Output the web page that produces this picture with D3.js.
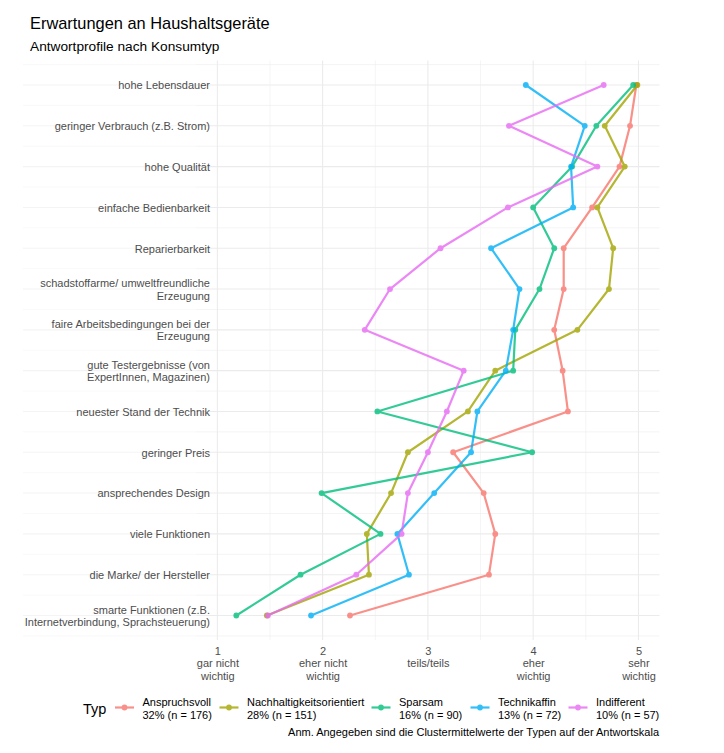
<!DOCTYPE html>
<html>
<head>
<meta charset="utf-8">
<script src="https://cdn.jsdelivr.net/npm/d3@7"></script>
<style>
  html, body { margin: 0; padding: 0; background: #fff; }
  svg { display: block; font-family: "Liberation Sans", Arial, sans-serif; }
</style>
</head>
<body>
<svg id="chart" width="724" height="753"></svg>
<script>
// ---- DATA ----
const categories = [
  "hohe Lebensdauer",
  "geringer Verbrauch (z.B. Strom)",
  "hohe Qualität",
  "einfache Bedienbarkeit",
  "Reparierbarkeit",
  "schadstoffarme/ umweltfreundliche\nErzeugung",
  "faire Arbeitsbedingungen bei der\nErzeugung",
  "gute Testergebnisse (von\nExpertInnen, Magazinen)",
  "neuester Stand der Technik",
  "geringer Preis",
  "ansprechendes Design",
  "viele Funktionen",
  "die Marke/ der Hersteller",
  "smarte Funktionen (z.B.\nInternetverbindung, Sprachsteuerung)"
];

const seriesNames = ["Anspruchsvoll", "Nachhaltigkeitsorientiert", "Sparsam", "Technikaffin", "Indifferent"];
const seriesShares = ["32% (n = 176)", "28% (n = 151)", "16% (n = 90)", "13% (n = 72)", "10% (n = 57)"];
const seriesColors = ["#F8766D", "#A3A500", "#00BF7D", "#00B0F6", "#E76BF3"];

const anspruchsvoll = [4.98, 4.92, 4.82, 4.56, 4.29, 4.29, 4.20, 4.28, 4.33, 3.24, 3.53, 3.64, 3.58, 2.26];
const nachhaltig    = [4.99, 4.68, 4.87, 4.61, 4.76, 4.72, 4.42, 3.64, 3.38, 2.81, 2.65, 2.42, 2.44, 1.47];
const sparsam       = [4.95, 4.60, 4.37, 4.00, 4.20, 4.06, 3.83, 3.81, 2.52, 3.99, 1.99, 2.55, 1.79, 1.18];
const technikaffin  = [3.93, 4.49, 4.36, 4.38, 3.60, 3.87, 3.81, 3.74, 3.47, 3.41, 3.06, 2.71, 2.82, 1.89];
const indifferent   = [4.67, 3.77, 4.61, 3.76, 3.12, 2.64, 2.40, 3.34, 3.18, 3.00, 2.81, 2.75, 2.32, 1.48];

const seriesValues = [anspruchsvoll, nachhaltig, sparsam, technikaffin, indifferent];

const xTicks = [1, 2, 3, 4, 5];
const xTickLabels = ["1\ngar nicht\nwichtig", "2\neher nicht\nwichtig", "3\nteils/teils", "4\neher\nwichtig", "5\nsehr\nwichtig"];

const titleText = "Erwartungen an Haushaltsgeräte";
const subtitleText = "Antwortprofile nach Konsumtyp";
const legendTitle = "Typ";
const captionText = "Anm. Angegeben sind die Clustermittelwerte der Typen auf der Antwortskala";

// ---- LAYOUT ----
const svg = d3.select("#chart");
const panel = { left: 196.3, right: 659.5, top: 60.5, bottom: 640 };
const labelAreaLeft = 23;
const labelRight = 210;

const x = d3.scaleLinear().domain([0.8, 5.2]).range([panel.left, panel.right]);
const y = d3.scalePoint().domain(categories).range([panel.top, panel.bottom]).padding(0.6);
const step = y.step();

const textColor = "#4D4D4D";
const gridColor = "#EBEBEB";

// Title / subtitle
svg.append("text").attr("x", 30).attr("y", 29).attr("font-size", 16.4).attr("fill", "#000").text(titleText);
svg.append("text").attr("x", 30).attr("y", 50.8).attr("font-size", 13.7).attr("fill", "#000").text(subtitleText);

// Grid
const grid = svg.append("g");
const xMinor = [1.5, 2.5, 3.5, 4.5];
grid.selectAll(".vminor").data(xMinor).join("line")
  .attr("x1", d => x(d)).attr("x2", d => x(d))
  .attr("y1", panel.top).attr("y2", panel.bottom)
  .attr("stroke", gridColor).attr("stroke-width", 0.55);
const yMinor = [];
categories.forEach((c) => { yMinor.push(y(c) - step / 2); });
yMinor.push(y(categories[categories.length - 1]) + step / 2);
grid.selectAll(".hminor").data(yMinor).join("line")
  .attr("x1", labelAreaLeft).attr("x2", panel.left)
  .attr("y1", d => d).attr("y2", d => d)
  .attr("stroke", "#F4F4F4").attr("stroke-width", 0.55);
grid.selectAll(".hminorp").data(yMinor).join("line")
  .attr("x1", panel.left).attr("x2", panel.right)
  .attr("y1", d => d).attr("y2", d => d)
  .attr("stroke", gridColor).attr("stroke-width", 0.55);
grid.selectAll(".hmajorl").data(categories).join("line")
  .attr("x1", labelAreaLeft).attr("x2", panel.left)
  .attr("y1", d => y(d)).attr("y2", d => y(d))
  .attr("stroke", "#F4F4F4").attr("stroke-width", 1.07);
grid.selectAll(".hmajor").data(categories).join("line")
  .attr("x1", panel.left).attr("x2", panel.right)
  .attr("y1", d => y(d)).attr("y2", d => y(d))
  .attr("stroke", gridColor).attr("stroke-width", 1.07);
grid.selectAll(".vmajor").data(xTicks).join("line")
  .attr("x1", d => x(d)).attr("x2", d => x(d))
  .attr("y1", panel.top).attr("y2", panel.bottom)
  .attr("stroke", gridColor).attr("stroke-width", 1.07);

// Y axis
const yAxis = svg.append("g").attr("transform", `translate(${labelRight},0)`)
  .call(d3.axisLeft(y).tickSize(0).tickPadding(0));
yAxis.select(".domain").remove();
yAxis.selectAll(".tick text").each(function(d) {
  const t = d3.select(this);
  const lines = d.split("\n");
  t.text(null).attr("fill", textColor).attr("font-size", 11).attr("font-family", "Liberation Sans, Arial, sans-serif")
    .attr("dy", null).attr("y", 0).attr("text-anchor", "end");
  const lh = 12.2;
  const start = -(lines.length - 1) * lh / 2 + 3.9;
  lines.forEach((ln, i) => {
    t.append("tspan").attr("x", 0).attr("y", start + i * lh).text(ln);
  });
});

// X axis
const xAxis = svg.append("g").attr("transform", `translate(0,${panel.bottom})`)
  .call(d3.axisBottom(x).tickValues(xTicks).tickSize(0).tickFormat((d, i) => xTickLabels[i]));
xAxis.select(".domain").remove();
xAxis.selectAll(".tick text").each(function(d, i) {
  const t = d3.select(this);
  const lines = xTickLabels[i].split("\n");
  t.text(null).attr("fill", textColor).attr("font-size", 11).attr("font-family", "Liberation Sans, Arial, sans-serif")
    .attr("dy", null).attr("y", 0);
  lines.forEach((ln, j) => {
    t.append("tspan").attr("x", 0).attr("y", 15 + j * 12.3).text(ln);
  });
});

// Series
const line = d3.line().x(d => x(d.v)).y(d => y(d.c));
const marks = svg.append("g");
seriesNames.forEach((name, si) => {
  const pts = categories.map((c, i) => ({ c, v: seriesValues[si][i] }));
  const g = marks.append("g").attr("opacity", 0.8);
  g.append("path").datum(pts).attr("d", line)
    .attr("fill", "none").attr("stroke", seriesColors[si]).attr("stroke-width", 2.2)
    .attr("stroke-linejoin", "round");
  g.selectAll("circle").data(pts).join("circle")
    .attr("cx", d => x(d.v)).attr("cy", d => y(d.c)).attr("r", 2.9)
    .attr("fill", seriesColors[si]);
});

// Legend
const legend = svg.append("g");
legend.append("text").attr("x", 83).attr("y", 714).attr("font-size", 14.5).attr("fill", "#000").text(legendTitle);
const keyCenters = [124.5, 229, 381, 480, 578];
seriesNames.forEach((name, si) => {
  const cx = keyCenters[si];
  const g = legend.append("g").attr("opacity", 0.8);
  g.append("line").attr("x1", cx - 9.5).attr("x2", cx + 9.5).attr("y1", 707.5).attr("y2", 707.5)
    .attr("stroke", seriesColors[si]).attr("stroke-width", 2.2);
  g.append("circle").attr("cx", cx).attr("cy", 707.5).attr("r", 2.9).attr("fill", seriesColors[si]);
  const t = legend.append("text").attr("font-size", 11).attr("fill", "#000");
  t.append("tspan").attr("x", cx + 18).attr("y", 706.3).text(name);
  t.append("tspan").attr("x", cx + 18).attr("y", 718.5).text(seriesShares[si]);
});

// Caption
svg.append("text").attr("x", 659).attr("y", 735.7).attr("text-anchor", "end")
  .attr("font-size", 11).attr("fill", "#000").text(captionText);
</script>
</body>
</html>
